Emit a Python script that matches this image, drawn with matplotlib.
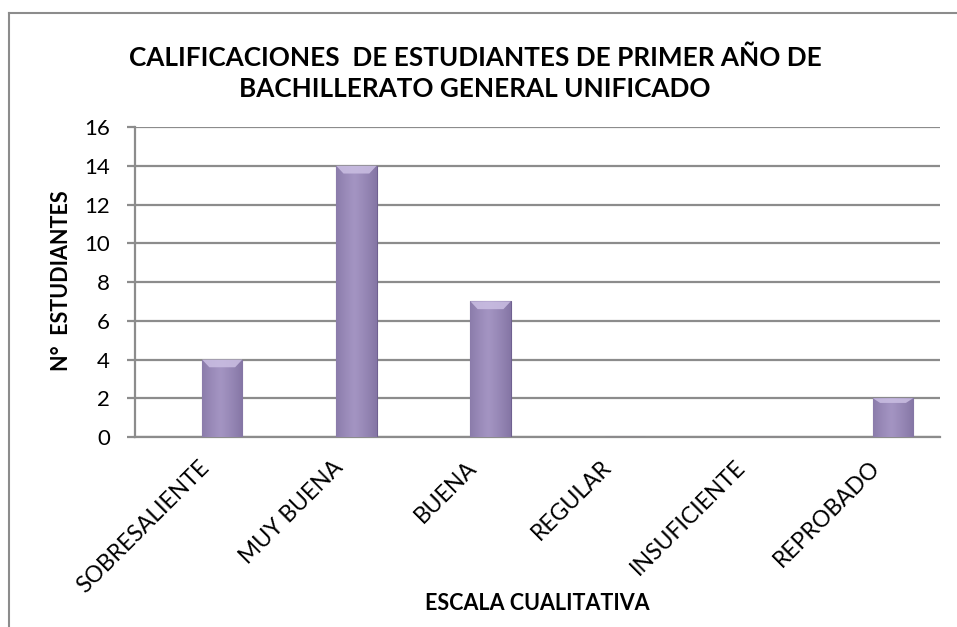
import numpy as np
import matplotlib.pyplot as plt
from matplotlib.lines import Line2D

categorias = ['SOBRESALIENTE', 'MUY BUENA', 'BUENA', 'REGULAR', 'INSUFICIENTE', 'REPROBADO']
estudiantes = [4, 14, 7, 0, 0, 2]
yticks = [0, 2, 4, 6, 8, 10, 12, 14, 16]

plt.rcParams['font.family'] = ['Lato', 'DejaVu Sans']

fig = plt.figure(figsize=(9.57, 6.27), dpi=100)
fig.patch.set_facecolor('white')
ax = fig.add_axes([0.1411, 0.3030, 0.8411, 0.4944])

x = np.arange(len(categorias))
ancho = 0.30
barras = ax.bar(x, estudiantes, width=ancho, align='edge', color='#9787b3',
                edgecolor='#6f6090', linewidth=0.8, zorder=3)

# gradiente horizontal sobre cada barra (efecto bisel)
grad = np.linspace(0, 1, 64)
perfil = 1 - 0.55 * np.abs(grad - 0.45) ** 1.2 * 2
colores = np.zeros((1, 64, 3))
base = np.array([0.64, 0.58, 0.76])
oscuro = np.array([0.42, 0.36, 0.55])
for i, p in enumerate(perfil):
    colores[0, i] = oscuro + (base - oscuro) * p
for b in barras:
    h = b.get_height()
    if h <= 0:
        continue
    x0 = b.get_x()
    w = b.get_width()
    im = ax.imshow(colores, extent=[x0, x0 + w, 0, h], aspect='auto', zorder=4)
    im.set_clip_path(b)
    # franja clara superior
    tope = min(0.4, h * 0.12)
    ax.fill([x0, x0 + w, x0 + w * 0.82, x0 + w * 0.18],
            [h, h, h - tope, h - tope], color='#cbbfe3', alpha=0.85, zorder=5, lw=0)

ax.set_xlim(-0.5, len(categorias) - 0.5)
ax.set_ylim(0, 16)
ax.set_yticks(yticks)
ax.yaxis.grid(True, color='#8c8c8c', linewidth=1.6, zorder=0)
ax.set_axisbelow(True)

for s in ['top', 'right']:
    ax.spines[s].set_visible(False)
ax.spines['left'].set_color('#8c8c8c')
ax.spines['left'].set_linewidth(1.6)
ax.spines['bottom'].set_color('#8c8c8c')
ax.spines['bottom'].set_linewidth(1.6)

ax.tick_params(axis='y', length=6, width=1.6, color='#8c8c8c', pad=12, labelsize=16)
ax.set_xticks(x - 0.03)
ax.set_xticklabels(categorias, rotation=45, ha='right', rotation_mode='anchor', fontsize=16.5)
ax.tick_params(axis='x', length=0, pad=14)

fig.text(62 / 957, 1 - 281 / 627, 'N°  ESTUDIANTES', rotation=90, ha='center', va='center',
         fontsize=15.5, fontweight='bold')
fig.text(537 / 957, 1 - 603 / 627, 'ESCALA CUALITATIVA', ha='center', va='center',
         fontsize=15.5, fontweight='bold')

fig.text(475 / 957, 1 - 73 / 627, 'CALIFICACIONES  DE ESTUDIANTES DE PRIMER AÑO DE\nBACHILLERATO GENERAL UNIFICADO',
         ha='center', va='center', fontsize=18.8, fontweight='bold', linespacing=1.35)

# marco exterior del gráfico
fig.add_artist(Line2D([9 / 957, 9 / 957], [0, 1 - 13 / 627], color='#8c8c8c', lw=1.5))
fig.add_artist(Line2D([9 / 957, 1], [1 - 13 / 627, 1 - 13 / 627], color='#8c8c8c', lw=1.5))

fig.savefig('out.png', dpi=100)
